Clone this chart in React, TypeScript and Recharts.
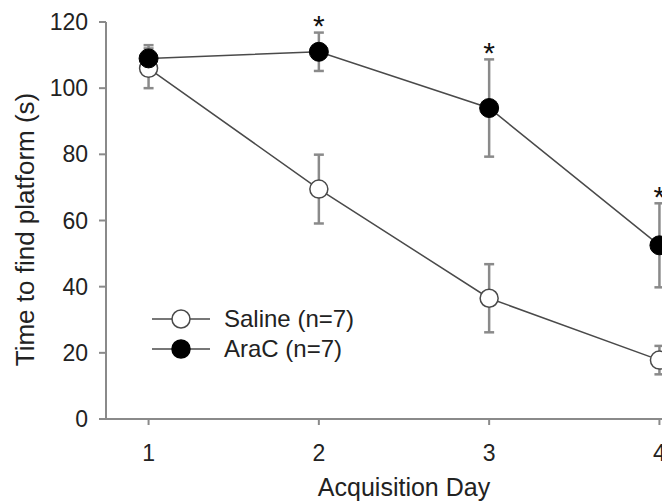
import { ErrorBar, LabelList, Legend, Line, LineChart, XAxis, YAxis } from 'recharts';

const days = [1, 2, 3, 4];
const saline = [106, 69.5, 36.5, 17.8];
const salineErr = [6, 10.4, 10.3, 4.3];
const araC = [109, 111, 94, 52.5];
const araCErr = [4, 5.8, 14.7, 12.7];
const significant = [false, true, true, true];
const yTicks = [0, 20, 40, 60, 80, 100, 120];
const xTicks = [1, 2, 3, 4];
const legendOrder = ['saline', 'araC'];

const data = days.map((day, i) => ({
	day,
	saline: saline[i],
	salineErr: salineErr[i],
	araC: araC[i],
	araCErr: araCErr[i],
	star: significant[i] ? araC[i] + araCErr[i] : null,
}));

const font = 'Liberation Sans, Arial, sans-serif';
const axisGray = '#8a8a8a';
const lineGray = '#4a4a4a';

function StarLabel(props: any) {
	const { x, y, value } = props;
	if (value == null || y == null) return null;
	return (
		<text x={x} y={y + 3.5} textAnchor="middle" fontSize={30} fontFamily={font} fill="#111">
			*
		</text>
	);
}

function YTitle(props: any) {
	const vb = props.viewBox || {};
	const cx = 25;
	const cy = vb.y + vb.height / 2 + 9;
	return (
		<text
			x={cx}
			y={cy}
			dy="0.36em"
			textAnchor="middle"
			fontSize={26}
			fontFamily={font}
			fill="#222"
			transform={`rotate(-90, ${cx}, ${cy})`}
		>
			Time to find platform (s)
		</text>
	);
}

function LegendBox(props: any) {
	const items = (props.payload || [])
		.filter((p: any) => legendOrder.includes(p.dataKey))
		.sort((a: any, b: any) => legendOrder.indexOf(a.dataKey) - legendOrder.indexOf(b.dataKey));
	return (
		<div style={{ fontFamily: font, fontSize: 24, color: '#222' }}>
			{items.map((p: any) => {
				const filled = p.dataKey === 'araC';
				return (
					<div key={p.dataKey} style={{ display: 'flex', alignItems: 'center', height: 30 }}>
						<svg width={58} height={30}>
							<line x1={0} y1={15} x2={58} y2={15} stroke={lineGray} strokeWidth={1.5} />
							<circle
								cx={29}
								cy={15}
								r={9}
								fill={filled ? '#000' : '#fff'}
								stroke={filled ? '#000' : lineGray}
								strokeWidth={1.5}
							/>
						</svg>
						<span style={{ marginLeft: 14, whiteSpace: 'nowrap' }}>{p.value}</span>
					</div>
				);
			})}
		</div>
	);
}

export default function App() {
	return (
		<div
			style={{
				position: 'fixed',
				left: 0,
				top: 0,
				width: 662,
				height: 503,
				overflow: 'hidden',
				background: '#fff',
			}}
		>
			<LineChart
				width={702}
				height={503}
				data={data}
				margin={{ top: 22, right: 0, bottom: 0, left: 0 }}
			>
				<XAxis
					dataKey="day"
					type="number"
					domain={[0.75, 4.25]}
					ticks={xTicks}
					height={84}
					stroke={axisGray}
					strokeWidth={2}
					tickSize={6}
					tickMargin={20}
					tick={{ fill: '#222', fontSize: 23, fontFamily: font }}
					label={{
						value: 'Acquisition Day',
						position: 'insideBottom',
						offset: 7,
						fill: '#222',
						fontSize: 25,
						fontFamily: font,
					}}
				/>
				<YAxis
					domain={[0, 120]}
					ticks={yTicks}
					width={106}
					stroke={axisGray}
					strokeWidth={2}
					tickSize={7}
					tickMargin={11}
					tick={{ fill: '#222', fontSize: 23, fontFamily: font }}
					label={<YTitle />}
				/>
				<Legend
					layout="vertical"
					align="center"
					verticalAlign="middle"
					content={<LegendBox />}
					wrapperStyle={{ left: 152, top: 304, width: 'auto' }}
				/>
				<Line
					dataKey="saline"
					name="Saline (n=7)"
					stroke={lineGray}
					strokeWidth={1.5}
					dot={{ r: 9, fill: '#fff', stroke: lineGray, strokeWidth: 1.5 }}
					activeDot={false}
					isAnimationActive={false}
				>
					<ErrorBar dataKey="salineErr" width={5} stroke={axisGray} strokeWidth={2.5} />
				</Line>
				<Line
					dataKey="araC"
					name="AraC (n=7)"
					stroke={lineGray}
					strokeWidth={1.5}
					dot={{ r: 9.5, fill: '#000', stroke: '#000', strokeWidth: 1 }}
					activeDot={false}
					isAnimationActive={false}
				>
					<ErrorBar dataKey="araCErr" width={5} stroke={axisGray} strokeWidth={2.5} />
				</Line>
				<Line
					dataKey="star"
					stroke="none"
					dot={false}
					activeDot={false}
					legendType="none"
					isAnimationActive={false}
				>
					<LabelList dataKey="star" content={<StarLabel />} />
				</Line>
			</LineChart>
		</div>
	);
}
